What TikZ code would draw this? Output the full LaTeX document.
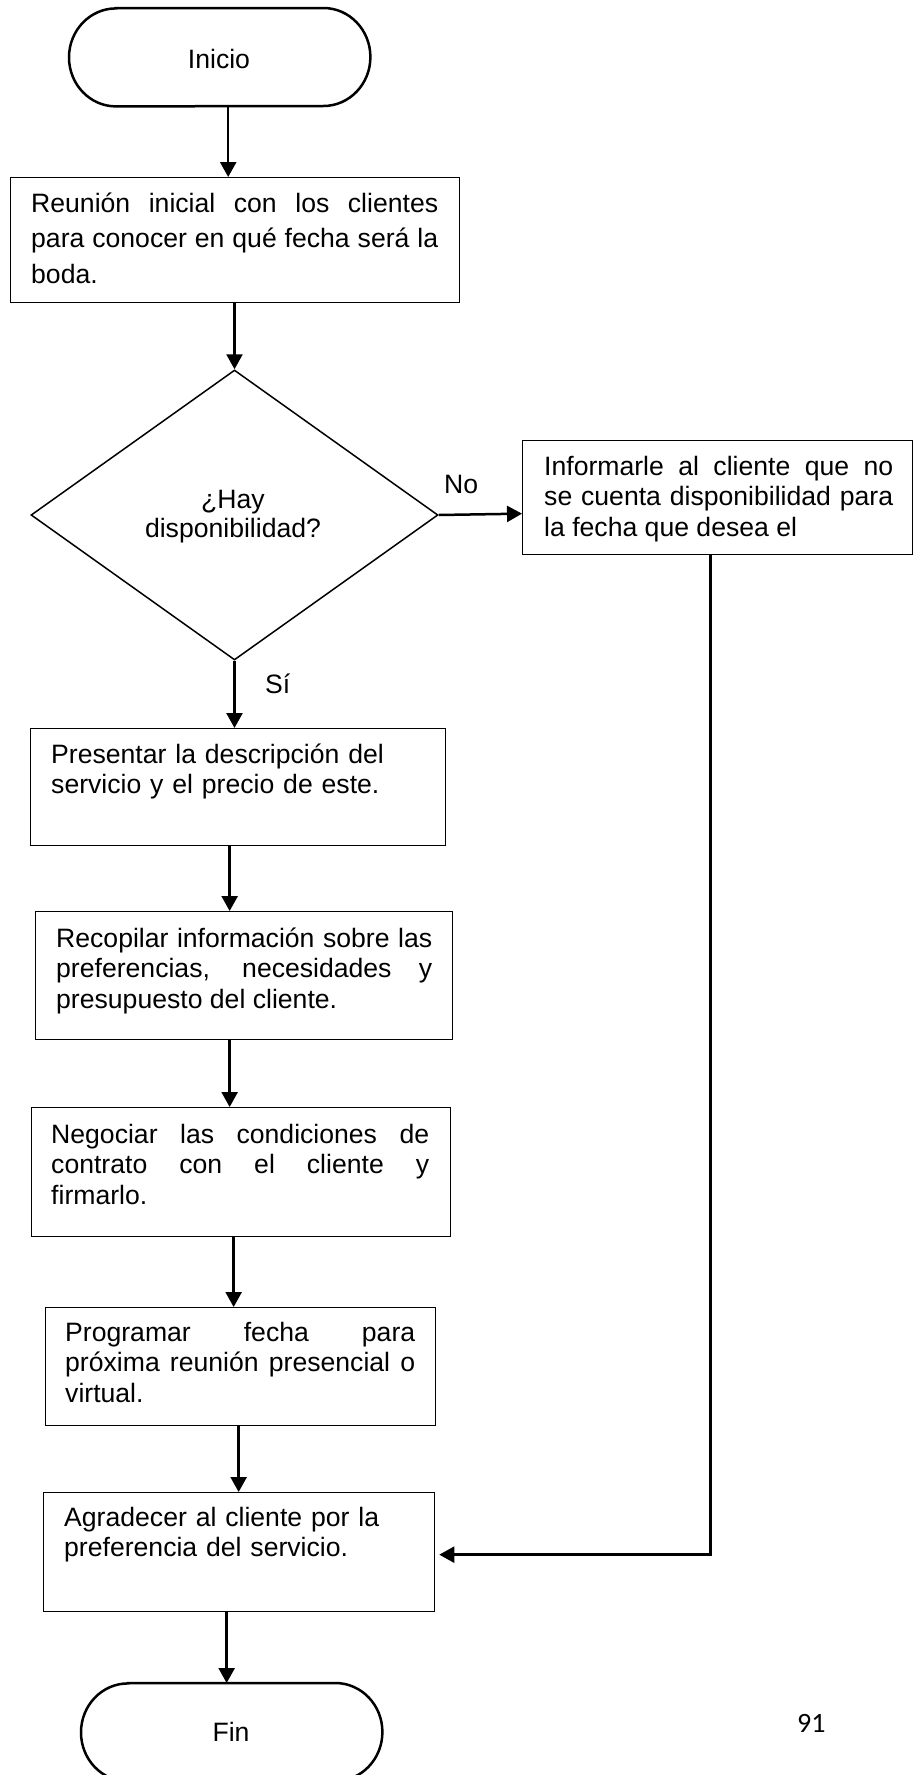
\documentclass[tikz,border=0pt]{standalone}
\usepackage{fontspec}
\setmainfont{Liberation Sans}
\newfontfamily\pagenumfont{Carlito}
\usetikzlibrary{shapes.geometric,arrows.meta}
\hyphenpenalty=10000
\tolerance=10000
\begin{document}
\begin{tikzpicture}[x=1pt,y=-1pt,
  box/.style={draw, line width=1.3pt, inner sep=0pt, anchor=north west},
  termnode/.style={inner sep=0pt, anchor=north west, minimum width=301pt, minimum height=98pt},
  termline/.style={line width=2.5pt},
  txt/.style={inner sep=0pt, anchor=base west, align=justify,
    font=\fontsize{26.6}{30.7}\selectfont},
  lbl/.style={inner sep=0pt, font=\fontsize{26.6}{30.7}\selectfont},
  arr/.style={line width=2.5pt, -{Triangle[length=15pt,width=16pt]}},
]
\useasboundingbox (0,0) rectangle (917,1775);
\clip (0,0) rectangle (917,1775);

% start terminal
\node[termnode] (ini) at (69,8) {};
\draw[termline] ([xshift=47pt]ini.north west) -- ([xshift=-47pt]ini.north east)
  arc[start angle=90, end angle=-90, x radius=47pt, y radius=49pt]
  -- ([xshift=47pt]ini.south west)
  arc[start angle=270, end angle=90, x radius=47pt, y radius=49pt] -- cycle;
\node[lbl, anchor=base] (tini) at (219,68) {Inicio};

% process boxes
\node[box, minimum width=449pt, minimum height=125pt] (b1) at (10,177) {};
\node[txt, text width=407pt, font=\fontsize{26.6}{35.5}\selectfont] (t1) at (31,212)
  {Reunión inicial con los clientes\linebreak para conocer en qué fecha será la\linebreak boda.};

% decision
\node[diamond, draw, line width=1.5pt, inner sep=0pt, minimum width=407pt, minimum height=290pt] (d) at (234.5,515) {};
\node[lbl, anchor=base, align=center, font=\fontsize{26.6}{29}\selectfont] (td) at (233,537) {¿Hay\\disponibilidad?};

\node[box, minimum width=390pt, minimum height=114pt] (info) at (522,440) {};
\node[txt, text width=349pt] (tinfo) at (544,475)
  {Informarle al cliente que no\linebreak se cuenta disponibilidad para\linebreak la fecha que desea el};

\node[box, minimum width=415pt, minimum height=117pt] (b2) at (30,728) {};
\node[txt, text width=380pt, align=left] (t2) at (51,763)
  {Presentar la descripción del\\servicio y el precio de este.};

\node[box, minimum width=417pt, minimum height=128pt] (b3) at (35,911) {};
\node[txt, text width=376pt] (t3) at (56,947)
  {Recopilar información sobre las\linebreak preferencias, necesidades y\linebreak presupuesto del cliente.};

\node[box, minimum width=419pt, minimum height=129pt] (b4) at (31,1107) {};
\node[txt, text width=378pt] (t4) at (51,1143)
  {Negociar las condiciones de\linebreak contrato con el cliente y\linebreak firmarlo.};

\node[box, minimum width=390pt, minimum height=118pt] (b5) at (45,1307) {};
\node[txt, text width=350pt] (t5) at (65,1341)
  {Programar fecha para\linebreak próxima reunión presencial o\linebreak virtual.};

\node[box, minimum width=391pt, minimum height=119pt] (b6) at (43,1492) {};
\node[txt, text width=360pt, align=left] (t6) at (64,1526)
  {Agradecer al cliente por la\\preferencia del servicio.};

% end terminal
\node[termnode] (fin) at (81,1683) {};
\draw[termline] ([xshift=47pt]fin.north west) -- ([xshift=-47pt]fin.north east)
  arc[start angle=90, end angle=-90, x radius=47pt, y radius=49pt]
  -- ([xshift=47pt]fin.south west)
  arc[start angle=270, end angle=90, x radius=47pt, y radius=49pt] -- cycle;
\node[lbl, anchor=base] (tfin) at (231,1741) {Fin};

% connectors
\draw[arr] ([xshift=8.5pt]ini.south) -- ([xshift=8.5pt]ini.south |- b1.north);
\draw[arr] (d.north |- b1.south) -- (d.north);
\draw[arr] (d.east) -- ([yshift=-16pt]info.west);
\node[lbl, anchor=base west] (lno) at (444,493) {No};
\draw[arr] (d.south) -- (d.south |- b2.north);
\node[lbl, anchor=base west] (lsi) at (265,693) {Sí};
\draw[arr] ([xshift=-8.5pt]b2.south) -- ([xshift=-8.5pt]b2.south |- b3.north);
\draw[arr] ([xshift=-14.5pt]b3.south) -- ([xshift=-14.5pt]b3.south |- b4.north);
\draw[arr] ([xshift=-7.5pt]b4.south) -- ([xshift=-7.5pt]b4.south |- b5.north);
\draw[arr] ([xshift=-2pt]b5.south) -- ([xshift=-2pt]b5.south |- b6.north);
\draw[arr] ([xshift=-12.5pt]b6.south) -- ([xshift=-12.5pt]b6.south |- fin.north);
\draw[arr] ([xshift=-7pt]info.south) |- ([xshift=4pt,yshift=-2.5pt]b6.east);

% page number
\node[inner sep=0pt, anchor=base west, font=\pagenumfont\fontsize{28}{32}\selectfont] (pg) at (797,1732) {91};
\end{tikzpicture}
\end{document}
